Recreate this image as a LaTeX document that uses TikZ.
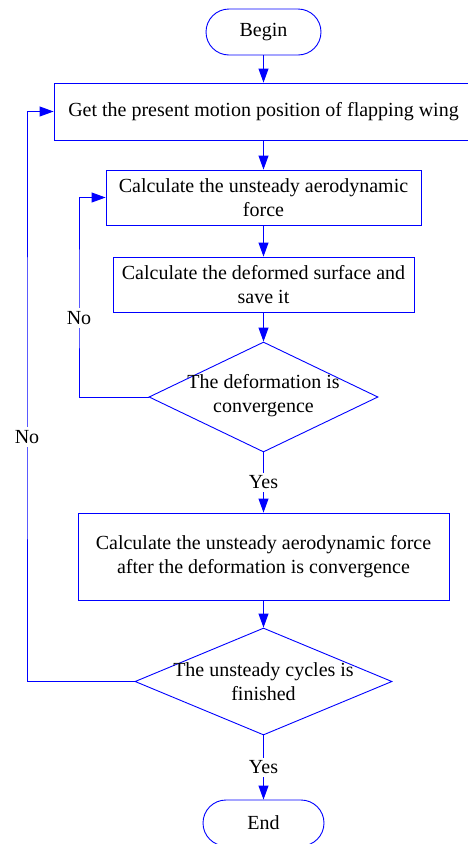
\documentclass[tikz,border=0pt]{standalone}
\usepackage{fontspec}
\setmainfont{Liberation Serif}
\usetikzlibrary{shapes.geometric,arrows.meta}
\begin{document}
\begin{tikzpicture}[x=1pt,y=-1pt,
 every node/.style={font=\fontsize{20}{24}\selectfont, text=black},
 proc/.style={draw=blue, line width=0.9pt, rectangle, inner sep=0pt, align=center},
 term/.style={draw=blue, line width=0.9pt, rectangle, rounded corners=23pt, inner sep=0pt},
 dia/.style={draw=blue, line width=0.9pt, diamond, inner sep=0pt},
 arr/.style={draw=blue, line width=0.9pt, -{Triangle[width=10pt,length=14pt]}},
 lbl/.style={fill=white, inner sep=3pt}]
\useasboundingbox (0,0) rectangle (468,844);
\node[term, minimum width=115pt, minimum height=46pt] (begin) at (263.5,32) {Begin};
\node[proc, minimum width=419pt, minimum height=57pt] (b1) at (263.5,111.5) {Get the present motion position of flapping wing};
\node[proc, minimum width=315pt, minimum height=55pt] (b2) at (263.5,197.5) {Calculate the unsteady aerodynamic\\force};
\node[proc, minimum width=301pt, minimum height=55pt] (b3) at (263.5,284.5) {Calculate the deformed surface and\\save it};
\node[dia, minimum width=229pt, minimum height=110pt] (d1) at (263.5,397) {};
\node[align=center] (d1t) at (263.5,396) {The deformation is\\convergence};
\node[proc, minimum width=371pt, minimum height=87pt] (b4) at (263.5,556.5) {Calculate the unsteady aerodynamic force\\after the deformation is convergence};
\node[dia, minimum width=257pt, minimum height=107pt] (d2) at (263.5,681.5) {};
\node[align=center] (d2t) at (263.5,681.5) {The unsteady cycles is\\finished};
\node[term, minimum width=121pt, minimum height=46pt] (end) at (263.5,823) {End};
\draw[arr] (begin) -- (b1);
\draw[arr] (b1) -- (b2);
\draw[arr] (b2) -- (b3);
\draw[arr] (b3) -- (d1.north);
\draw[arr] (d1.south) -- node[lbl] (y1) {Yes} (b4.north);
\draw[arr] (b4) -- (d2.north);
\draw[arr] (d2.south) -- node[lbl] (y2) {Yes} (end.north);
\coordinate (c1) at (79,300);
\draw[arr] (d1.west) -| (c1) |- (b2.west);
\node[lbl] (n1) at (79,318) {No};
\coordinate (c2) at (27,400);
\draw[arr] (d2.west) -| (c2) |- (b1.west);
\node[lbl] (n2) at (27,437) {No};
\end{tikzpicture}
\end{document}
